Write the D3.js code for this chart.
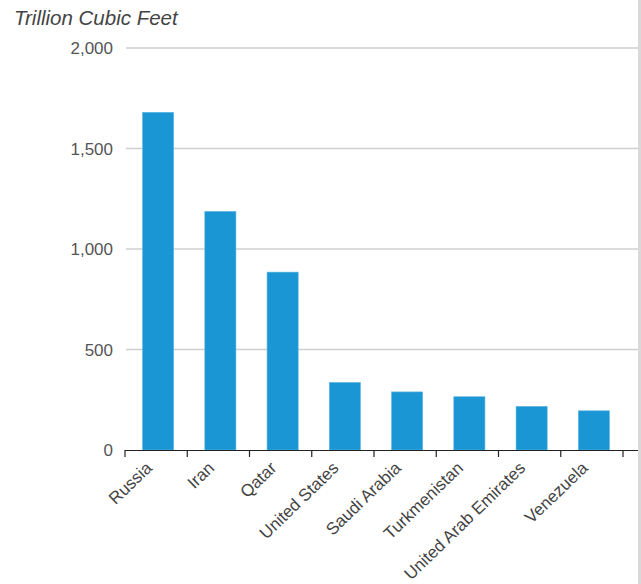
<!DOCTYPE html>
<html><head><meta charset="utf-8">
<script src="https://cdn.jsdelivr.net/npm/d3@7"></script>
<style>body{margin:0;background:#fff;}svg{display:block;font-family:"Liberation Sans",Arial,sans-serif;}</style>
</head><body>
<svg id="c" width="641" height="584"></svg>
<script>
const categories = ["Russia","Iran","Qatar","United States","Saudi Arabia","Turkmenistan","United Arab Emirates","Venezuela"];
const values = [1680,1187,885,336,289,265,217,195];
const yTicks = [0,500,1000,1500,2000];
const yTitle = "Trillion Cubic Feet";

const svg = d3.select("#c");
const x = d3.scaleBand().domain(categories).range([126,624]).paddingInner(0.5).paddingOuter(0.25);
const y = d3.scaleLinear().domain([0,2000]).range([450,48]);
const fmt = d3.format(",");

// gridlines
svg.append("g").selectAll("line").data(yTicks.filter(d=>d>0)).join("line")
  .attr("x1",126).attr("x2",638).attr("y1",d=>y(d)).attr("y2",d=>y(d))
  .attr("stroke","#cfcfcf").attr("stroke-width",1.5);

// y labels
svg.append("g").selectAll("text").data(yTicks).join("text")
  .attr("x",113).attr("y",d=>y(d)).attr("dy","0.36em").attr("text-anchor","end")
  .attr("font-size",17).attr("fill","#555").text(d=>fmt(d));

// bars
svg.append("g").selectAll("rect").data(categories).join("rect")
  .attr("x",d=>x(d)+1).attr("width",x.bandwidth())
  .attr("y",(d,i)=>y(values[i])).attr("height",(d,i)=>450-y(values[i]))
  .attr("fill","#1b96d4").attr("stroke","#5ab6e4").attr("stroke-width",0.6);

// x axis
const tickPos = d3.range(categories.length+1).map(i=>125+i*62.25);
svg.append("line").attr("x1",125).attr("x2",638).attr("y1",450.5).attr("y2",450.5).attr("stroke","#222").attr("stroke-width",1.2);
svg.append("g").selectAll("line").data(tickPos).join("line")
  .attr("x1",d=>d).attr("x2",d=>d).attr("y1",450).attr("y2",457).attr("stroke","#222").attr("stroke-width",1.2);

svg.append("g").selectAll("text").data(categories).join("text")
  .attr("transform",d=>`translate(${x(d)+x.bandwidth()/2-13},${460}) rotate(-44)`)
  .attr("text-anchor","end").attr("dy","0.75em")
  .attr("font-size",17).attr("fill","#444").text(d=>d);

// title
svg.append("text").attr("x",14).attr("y",25).attr("font-size",20.5).attr("font-style","italic")
  .attr("fill","#444").text(yTitle);

// right border
svg.append("rect").attr("x",638).attr("y",0).attr("width",3).attr("height",584).attr("fill","#d9d9d9");
</script>
</body></html>
